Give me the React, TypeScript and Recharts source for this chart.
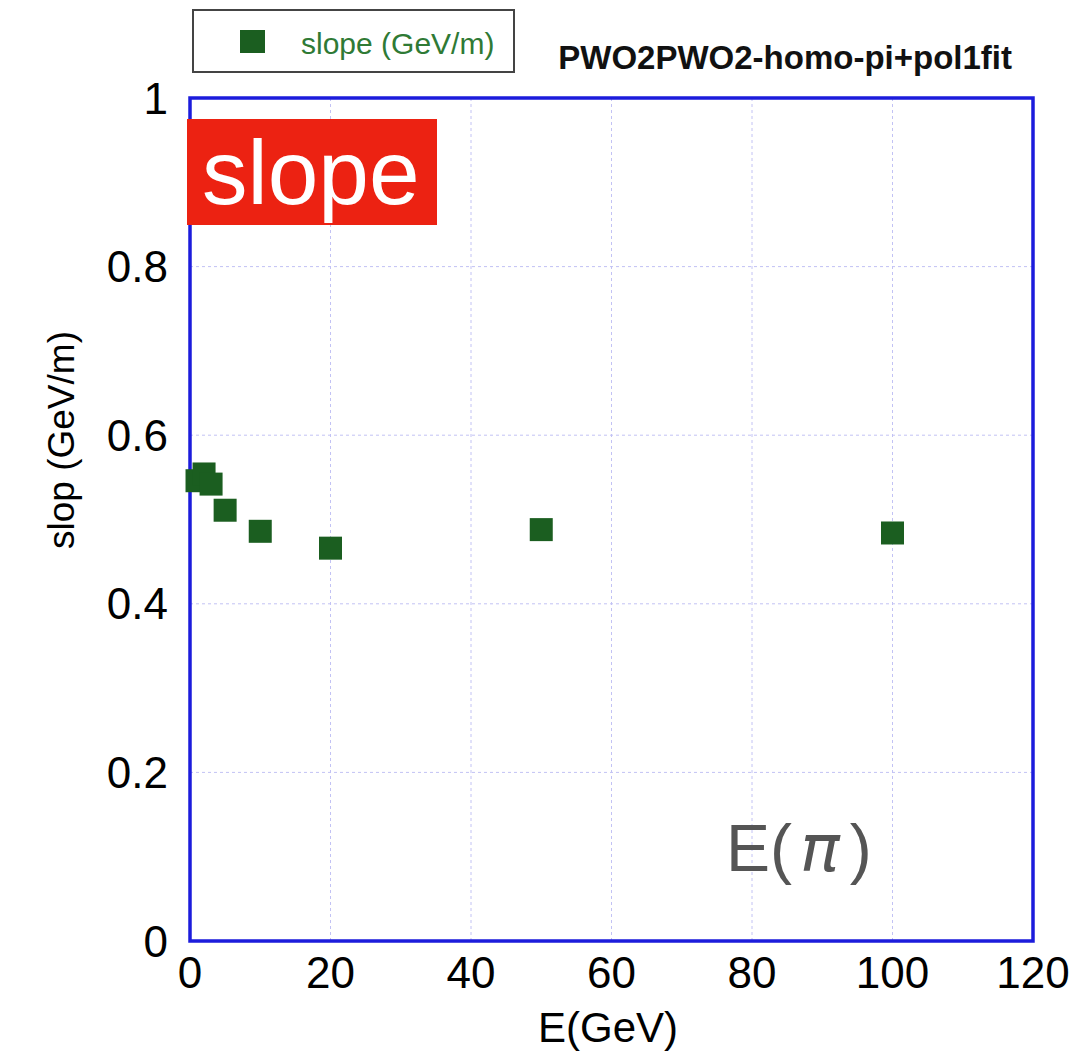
import React from "react";
import {
  ScatterChart,
  Scatter,
  XAxis,
  YAxis,
  CartesianGrid,
  ReferenceArea,
} from "recharts";

const energies = [1, 2, 3, 5, 10, 20, 50, 100];
const slopes = [0.546, 0.554, 0.542, 0.511, 0.486, 0.466, 0.488, 0.484];
const xTicks = [0, 20, 40, 60, 80, 100, 120];
const yTicks = [0, 0.2, 0.4, 0.6, 0.8, 1];

const GREEN = "#1b5e20";
const BLUE = "#1c1cdc";
const FONT = "'Liberation Sans', Arial, sans-serif";

const points = energies.map((e, i) => ({ e, slope: slopes[i] }));

function SquareDot(props: { cx?: number; cy?: number }) {
  const { cx = 0, cy = 0 } = props;
  return <rect x={cx - 11.5} y={cy - 11.5} width={23} height={23} fill={GREEN} />;
}

export default function App() {
  const tick = { fill: "#000", fontSize: 44, fontFamily: FONT };
  return (
    <div style={{ position: "absolute", left: 0, top: 0, width: 1076, height: 1057, background: "#fff" }}>
      <ScatterChart
        width={1076}
        height={1057}
        margin={{ top: 98, right: 43, bottom: 0, left: 0 }}
      >
        <CartesianGrid stroke="#c2c2f4" strokeDasharray="3 3" />
        <XAxis
          type="number"
          dataKey="e"
          domain={[0, 120]}
          ticks={xTicks}
          height={116}
          tick={tick}
          tickLine={false}
          axisLine={false}
          tickSize={0}
          tickMargin={16}
        />
        <YAxis
          type="number"
          dataKey="slope"
          domain={[0, 1]}
          ticks={yTicks}
          width={190}
          tick={tick}
          tickLine={false}
          axisLine={false}
          tickSize={0}
          tickMargin={22}
        />
        <ReferenceArea
          x1={0}
          x2={120}
          y1={0}
          y2={1}
          fill="none"
          stroke={BLUE}
          strokeWidth={3.5}
          ifOverflow="visible"
        />
        <Scatter data={points} shape={<SquareDot />} isAnimationActive={false} />
      </ScatterChart>
      <svg
        width={1076}
        height={1057}
        style={{ position: "absolute", left: 0, top: 0, pointerEvents: "none" }}
      >
        {/* legend box */}
        <rect x={193} y={10} width={321} height={62} fill="#fff" stroke="#444" strokeWidth={2} />
        <rect x={240} y={30} width={25} height={23} fill={GREEN} />
        <text x={301} y={54} fontSize={30} fill="#2f7a35" fontFamily={FONT}>
          slope (GeV/m)
        </text>
        {/* title */}
        <text x={1012} y={69} fontSize={33} fontWeight="bold" textAnchor="end" fill="#111" fontFamily={FONT}>
          PWO2PWO2-homo-pi+pol1fit
        </text>
        {/* axis titles */}
        <text
          x={0}
          y={0}
          transform="translate(74,440) rotate(-90)"
          fontSize={37}
          textAnchor="middle"
          fill="#000"
          fontFamily={FONT}
        >
          slop (GeV/m)
        </text>
        <text x={608} y={1042} fontSize={42} textAnchor="middle" fill="#000" fontFamily={FONT}>
          E(GeV)
        </text>
        {/* red tag */}
        <rect x={187} y={119} width={250} height={106} fill="#ec2212" />
        <text x={202} y={204} fontSize={91} fill="#fff" fontFamily={FONT}>
          slope
        </text>
        {/* E(pi) note */}
        <text x={726} y={871} fontSize={66} fill="#555" fontFamily={FONT}>
          E(
          <tspan dx={8} fontStyle="italic" fontFamily="'DejaVu Sans', sans-serif">π</tspan>
          <tspan dx={10}>)</tspan>
        </text>
      </svg>
    </div>
  );
}
